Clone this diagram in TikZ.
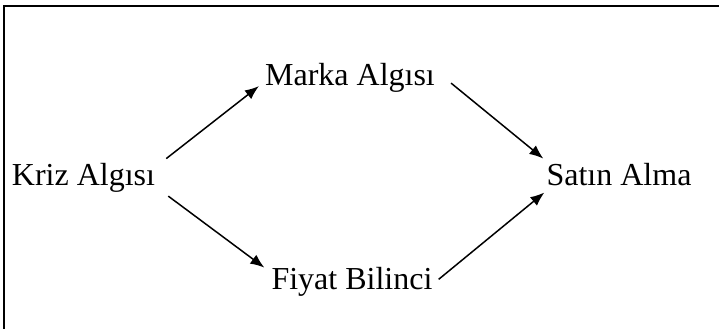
\documentclass[tikz,border=0pt]{standalone}
\usepackage{fontspec}
\setmainfont{Liberation Serif}
\usetikzlibrary{arrows.meta}

\begin{document}
\begin{tikzpicture}[x=1pt,y=-1pt,
  concept/.style={inner sep=0pt,anchor=base,font=\fontsize{32}{38}\selectfont},
  link/.style={line width=1.5pt,-{Latex[length=14pt,width=11pt]}}]
\useasboundingbox (0,0) rectangle (719,329);
\draw[line width=2pt] (719,6) -- (4,6) -- (4,329);

\node[concept] (kriz) at (83.5,185) {Kriz Algısı};
\node[concept] (marka) at (350,85) {Marka Algısı};
\node[concept] (fiyat) at (352,289) {Fiyat Bilinci};
\node[concept] (satin) at (619,185) {Satın Alma};

\draw[link] ([xshift=11pt,yshift=4pt]kriz.north east) -- ([xshift=-6pt,yshift=6pt]marka.south west);
\draw[link] ([xshift=13pt,yshift=-4pt]kriz.south east) -- ([xshift=-7pt,yshift=-1pt]fiyat.north west);
\draw[link] ([xshift=16pt,yshift=9pt]marka.south east) -- ([xshift=-3pt,yshift=4pt]satin.north west);
\draw[link] ([xshift=6pt,yshift=2pt]fiyat.east) -- ([xshift=-2pt,yshift=-7pt]satin.south west);
\end{tikzpicture}
\end{document}
